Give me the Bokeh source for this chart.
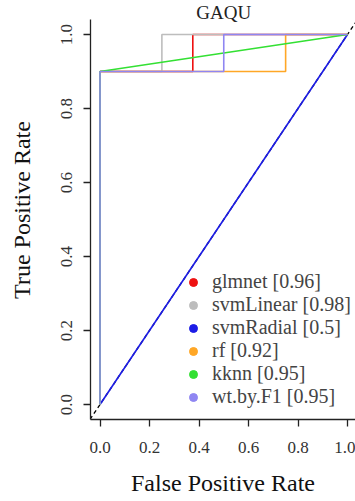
from bokeh.plotting import figure
from bokeh.models import Range1d, Slope, Label, FixedTicker, Legend, LegendItem
from bokeh.embed import file_html
from bokeh.resources import INLINE

title = "GAQU"
models = ["glmnet", "svmLinear", "svmRadial", "rf", "kknn", "wt.by.F1"]
auc = ["0.96", "0.98", "0.5", "0.92", "0.95", "0.95"]
colors = ["#ee1111", "#bdbdbd", "#1c1ce6", "#ffa726", "#33e033", "#8f86f2"]

fpr_glmnet = [0, 0, 0.375, 0.375, 1]
tpr_glmnet = [0, 0.9, 0.9, 1, 1]
fpr_svmLinear = [0, 0, 0.25, 0.25, 1]
tpr_svmLinear = [0, 0.9, 0.9, 1, 1]
fpr_svmRadial = [0, 1]
tpr_svmRadial = [0, 1]
fpr_rf = [0, 0, 0.75, 0.75, 1]
tpr_rf = [0, 0.9, 0.9, 1, 1]
fpr_kknn = [0, 0, 1]
tpr_kknn = [0, 0.9, 1]
fpr_wt = [0, 0, 0.5, 0.5, 1]
tpr_wt = [0, 0.9, 0.9, 1, 1]

curves = [(fpr_glmnet, tpr_glmnet), (fpr_svmLinear, tpr_svmLinear),
          (fpr_svmRadial, tpr_svmRadial), (fpr_rf, tpr_rf),
          (fpr_kknn, tpr_kknn), (fpr_wt, tpr_wt)]

ticks = [0.0, 0.2, 0.4, 0.6, 0.8, 1.0]
tick_labels = {0.0: "0.0", 0.2: "0.2", 0.4: "0.4", 0.6: "0.6", 0.8: "0.8", 1.0: "1.0"}

FONT = "Liberation Serif"
Y_LO, Y_HI = -0.0405, 1.0405

p = figure(width=355, height=501,
           x_range=Range1d(-0.0384, 1.0323), y_range=Range1d(Y_LO, 1.0919),
           output_backend="svg", toolbar_location=None,
           min_border_left=90, min_border_right=0, min_border_top=0, min_border_bottom=82)
p.outline_line_color = None
p.xgrid.visible = False
p.ygrid.visible = False
p.background_fill_color = "white"

# diagonal reference (under the curves)
p.add_layout(Slope(gradient=1, y_intercept=0, line_color="black", line_width=1.3,
                   line_dash="4 3", level="underlay"))

for (fx, ty), c in zip(curves, colors):
    p.line(fx, ty, line_color=c, line_width=1.6)

items = []
nan = float("nan")
for m, a, c in zip(models, auc, colors):
    r = p.scatter(x=[nan], y=[nan], size=5, fill_color=c, line_color=c, marker="circle")
    items.append(LegendItem(label=f"{m} [{a}]", renderers=[r]))

legend = Legend(items=items, location=(93, 11), label_text_font=FONT,
                label_text_font_size="20px", label_standoff=9, glyph_width=20,
                glyph_height=20, label_height=20, spacing=0, padding=0, margin=0,
                background_fill_alpha=0, border_line_color=None)
p.add_layout(legend, "center")

for ax in (p.xaxis, p.yaxis):
    ax.ticker = FixedTicker(ticks=ticks)
    ax.major_label_overrides = tick_labels
    ax.minor_tick_line_color = None
    ax.major_tick_out = 7
    ax.major_tick_in = 0
    ax.axis_line_color = "#222222"
    ax.major_tick_line_color = "#222222"
    ax.axis_line_width = 1.3
    ax.major_tick_line_width = 1.3
    ax.major_label_text_font = FONT
    ax.major_label_text_font_size = "17px"
    ax.major_label_text_color = "#333333"
    ax.axis_label_text_font = FONT
    ax.axis_label_text_font_size = "24px"
    ax.axis_label_text_font_style = "normal"
    ax.axis_label_text_color = "#111111"

p.yaxis.bounds = (Y_LO, Y_HI)
p.xaxis.axis_label = "False Positive Rate"
p.yaxis.axis_label = "True Positive Rate"
p.xaxis.major_label_standoff = 15
p.xaxis.axis_label_standoff = 14
p.yaxis.major_label_standoff = 11
p.yaxis.major_label_orientation = "vertical"
p.yaxis.axis_label_standoff = 24

p.add_layout(Label(x=0.5, y=1.0595, text=title, text_align="center", text_baseline="middle",
                   text_font=FONT, text_font_size="19px", text_color="#222222"))

open("out.html", "w").write(file_html(p, INLINE))
